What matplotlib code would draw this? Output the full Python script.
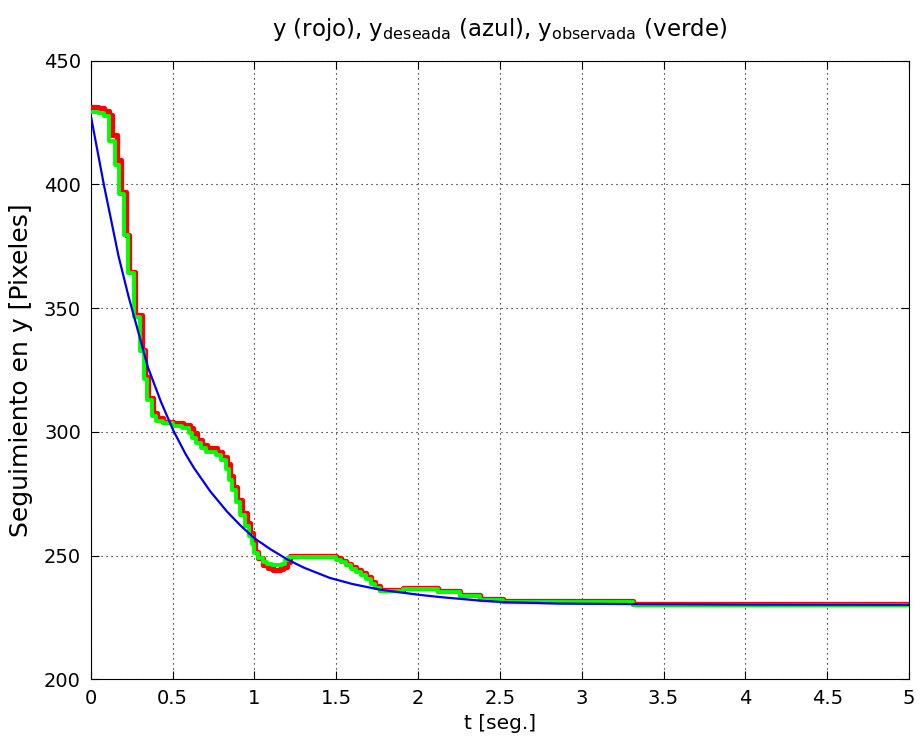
import matplotlib
matplotlib.use("Agg")
import matplotlib.pyplot as plt

# ---- data ----
t_red = [0.000, 0.045, 0.080, 0.110, 0.132, 0.159, 0.185, 0.215, 0.232, 0.271,
         0.312, 0.332, 0.352, 0.383, 0.403, 0.444, 0.505, 0.566, 0.607, 0.625,
         0.648, 0.678, 0.709, 0.770, 0.800, 0.830, 0.851, 0.872, 0.892, 0.923,
         0.954, 0.974, 0.994, 1.004, 1.024, 1.055, 1.086, 1.116, 1.157, 1.177,
         1.198, 1.218, 1.500, 1.530, 1.560, 1.590, 1.620, 1.650, 1.680, 1.710,
         1.740, 1.770, 1.909, 2.123, 2.257, 2.379, 2.520, 3.315, 5.000]
y_red = [431.2, 430.8, 429.6, 428.0, 420.0, 409.9, 397.0, 379.5, 364.7, 347.2,
         333.1, 322.3, 313.7, 307.6, 305.6, 304.0, 303.5, 302.8, 301.4, 299.4,
         296.7, 294.7, 293.5, 292.0, 290.0, 287.0, 282.0, 277.8, 272.5, 267.1,
         263.0, 259.0, 255.6, 251.6, 248.9, 246.2, 244.9, 244.2, 244.5, 245.5,
         247.5, 249.8, 249.0, 248.0, 246.8, 245.4, 244.2, 243.0, 241.2, 239.3,
         237.7, 236.1, 237.0, 235.8, 234.1, 232.6, 231.6, 230.6, 230.6]

t_green = [0.000, 0.045, 0.080, 0.112, 0.150, 0.175, 0.205, 0.228, 0.262, 0.302,
           0.325, 0.345, 0.375, 0.400, 0.440, 0.500, 0.560, 0.600, 0.620, 0.645,
           0.675, 0.705, 0.765, 0.795, 0.825, 0.845, 0.865, 0.885, 0.915, 0.945,
           0.968, 0.988, 1.000, 1.020, 1.050, 1.080, 1.110, 1.150, 1.170, 1.190,
           1.210, 1.500, 1.530, 1.560, 1.590, 1.620, 1.650, 1.680, 1.710, 1.740,
           1.770, 1.909, 2.123, 2.257, 2.379, 2.520, 3.315, 5.000]
y_green = [429.2, 428.8, 427.8, 417.5, 408.0, 396.0, 379.5, 364.0, 346.5, 332.5,
           321.5, 313.0, 306.5, 304.5, 303.5, 302.5, 301.5, 299.5, 297.5, 295.5,
           293.5, 292.0, 290.5, 288.5, 285.0, 280.5, 276.5, 271.5, 266.5, 262.0,
           258.0, 254.5, 251.0, 249.0, 247.5, 246.5, 246.0, 246.0, 246.8, 248.2,
           249.3, 248.3, 247.3, 246.0, 244.7, 243.5, 242.2, 240.5, 238.5, 237.0,
           235.5, 236.3, 235.2, 233.5, 232.2, 231.2, 230.2, 230.2]

t_blue = [0.00, 0.08, 0.17, 0.23, 0.29, 0.35, 0.43, 0.505, 0.58, 0.63,
          0.73, 0.83, 0.91, 1.00, 1.10, 1.20, 1.30, 1.46, 1.60, 1.77,
          2.00, 2.14, 2.38, 2.52, 2.86, 3.30, 4.00, 5.00]
y_blue = [428.0, 400.0, 371.0, 355.0, 340.5, 326.0, 312.0, 300.5, 291.0, 285.5,
          276.0, 268.0, 262.5, 257.0, 252.5, 248.5, 245.2, 241.0, 238.5, 236.2,
          234.2, 233.2, 231.8, 231.2, 230.6, 230.4, 230.2, 230.1]

x_ticks = [0, 0.5, 1, 1.5, 2, 2.5, 3, 3.5, 4, 4.5, 5]
x_ticklabels = ["0", "0.5", "1", "1.5", "2", "2.5", "3", "3.5", "4", "4.5", "5"]
y_ticks = [200, 250, 300, 350, 400, 450]

title_text = r"y (rojo), y$_{\mathregular{deseada}}$ (azul), y$_{\mathregular{observada}}$ (verde)"
xlabel_text = "t [seg.]"
ylabel_text = "Seguimiento en y [Pixeles]"

# ---- styling ----
plt.rcParams['font.family'] = ['DejaVu Sans']
plt.rcParams['mathtext.fontset'] = 'dejavusans'
plt.rcParams['mathtext.default'] = 'regular'

fig = plt.figure(figsize=(9.21, 7.40), dpi=100)
ax = fig.add_axes([0.0985, 0.082, 0.8885, 0.836])

ax.plot(t_red, y_red, drawstyle='steps-post', color='#ff0000', lw=3.8, zorder=3)
ax.plot(t_green, y_green, drawstyle='steps-post', color='#00ff00', lw=2.8, zorder=4)
ax.plot(t_blue, y_blue, color='#0000ee', lw=1.6, zorder=5)

ax.set_xlim(0, 5)
ax.set_ylim(200, 450)
ax.set_xticks(x_ticks)
ax.set_xticklabels(x_ticklabels)
ax.set_yticks(y_ticks)

ax.grid(True, linestyle=(0, (1, 3.5)), color='black', linewidth=0.8)
ax.tick_params(direction='in', length=6, width=0.8, top=True, right=True,
               labelsize=14, pad=7)
for s in ax.spines.values():
    s.set_linewidth(0.8)

ax.set_title(title_text, fontsize=16.5, pad=18)
ax.set_xlabel(xlabel_text, fontsize=14.5, labelpad=4)
ax.set_ylabel(ylabel_text, fontsize=18, labelpad=8)

fig.savefig("out.png", dpi=100)
